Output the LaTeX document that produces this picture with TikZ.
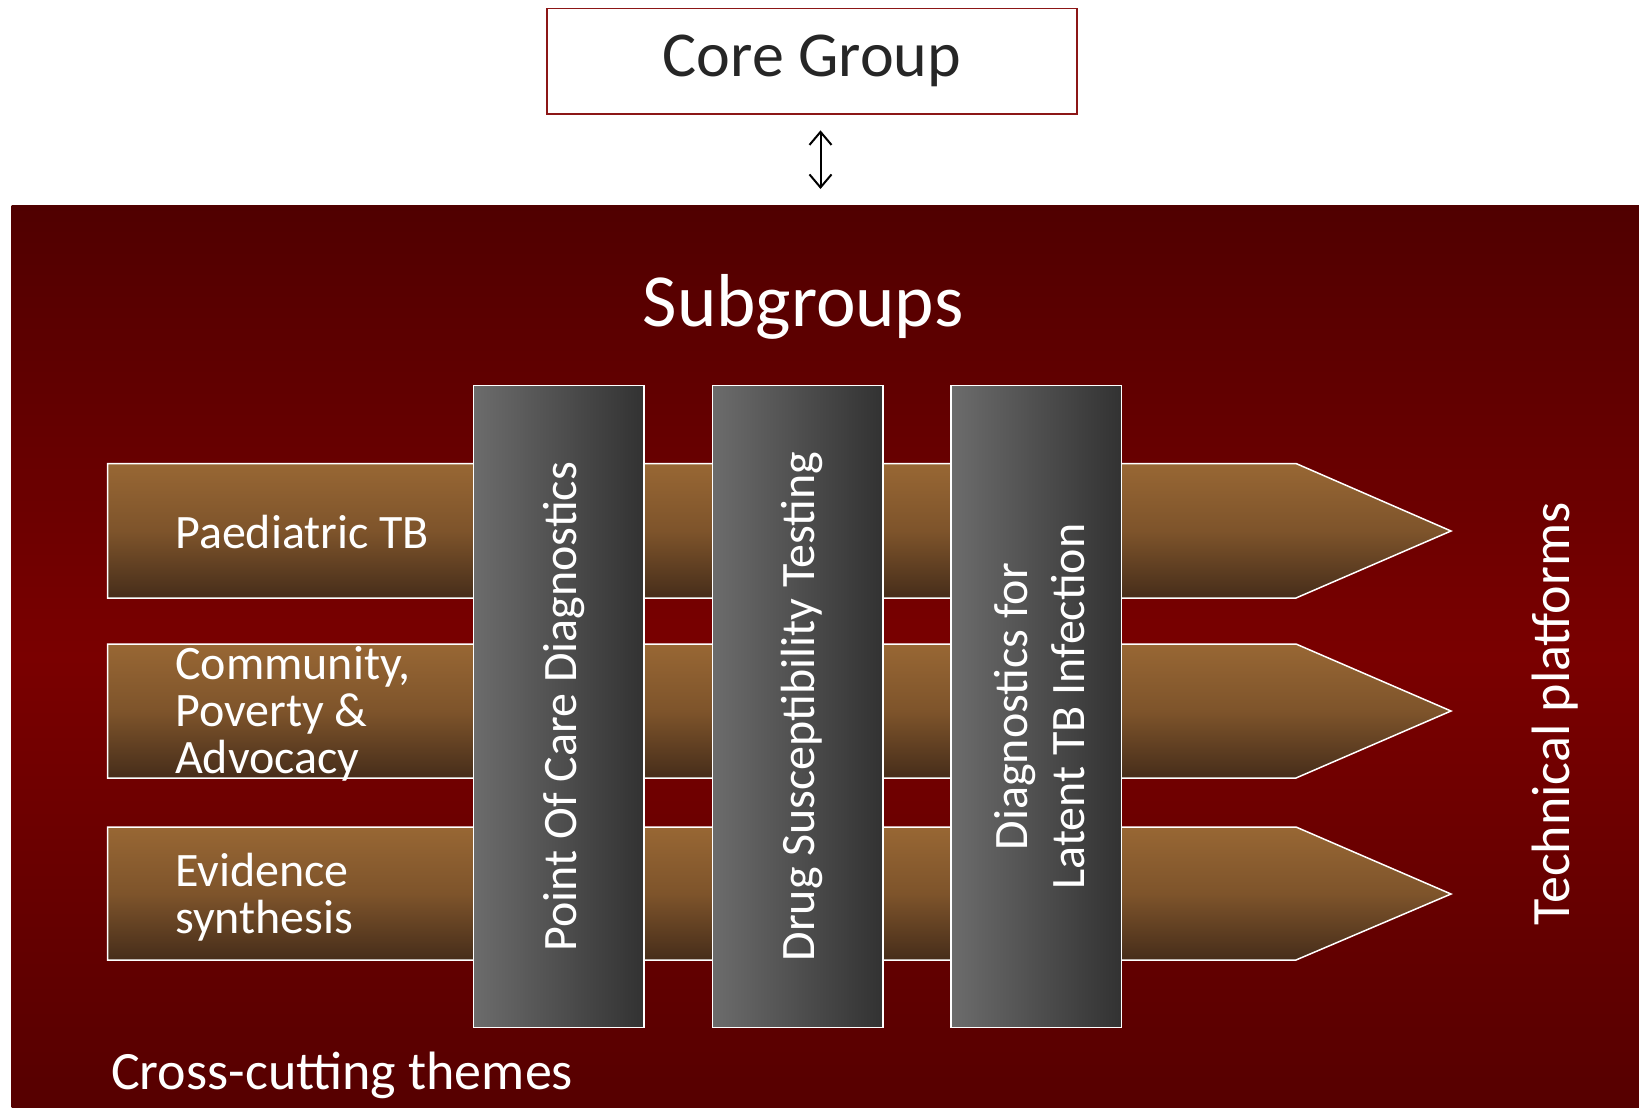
\documentclass[tikz,border=0pt]{standalone}
\usepackage{fontspec}
\setmainfont{Carlito}
\usetikzlibrary{arrows.meta}
\definecolor{bgTop}{RGB}{80,0,0}
\definecolor{bgMid}{RGB}{122,0,0}
\definecolor{bgBot}{RGB}{86,0,0}
\definecolor{barTop}{RGB}{152,103,52}
\definecolor{barMid}{RGB}{126,84,43}
\definecolor{barBot}{RGB}{70,45,26}
\definecolor{grayL}{RGB}{108,108,108}
\definecolor{grayR}{RGB}{50,50,50}
\definecolor{coreBorder}{RGB}{140,22,22}
\definecolor{coreText}{RGB}{38,38,38}
\tikzset{
  barshape/.style={draw=white, line width=1.5pt, top color=barTop, bottom color=barBot, middle color=barMid},
  graybox/.style={draw=white, line width=1.5pt, left color=grayL, right color=grayR, minimum width=170.5pt, minimum height=641.8pt, inner sep=0pt},
  whitetext/.style={text=white, inner sep=0pt},
  barlabel/.style={whitetext, anchor=west, align=left, font=\fontsize{48}{47}\selectfont},
  vlabel/.style={whitetext, rotate=90, align=center, font=\fontsize{48}{57}\selectfont},
}
\begin{document}
\begin{tikzpicture}[x=1pt,y=-1pt]
\useasboundingbox (0,0) rectangle (1639,1108);
\fill[white] (0,0) rectangle (1639,1108);
% background panel
\node[inner sep=0pt, outer sep=0pt, minimum width=1627.5pt, minimum height=903pt, anchor=north west,
      top color=bgTop, bottom color=bgBot, middle color=bgMid] (panel) at (11.5,205) {};
% core group
\node[draw=coreBorder, line width=1.5pt, fill=white, minimum width=530pt, minimum height=105.6pt, inner sep=0pt,
      text=coreText, font=\fontsize{64}{64}\selectfont] (core) at (812,61.2) {\raisebox{-2pt}{Core Group}};
\coordinate (arrtop) at (820.5,129.6);
\coordinate (arrbot) at (820.5,189);
\draw[{Straight Barb[length=13pt,width=22pt]}-{Straight Barb[length=13pt,width=22pt]}, line width=2pt, black]
  (core.south -| arrtop) ++(0,15.6) -- (arrbot);
\node[whitetext, font=\fontsize{75}{75}\selectfont] (sub) at (803,307) {Subgroups};
% bars
\draw[barshape] (107.7,463.5) -- (1296,463.5) -- (1451,531) -- (1296,598) -- (107.7,598) -- cycle;
\draw[barshape] (107.7,644) -- (1296,644) -- (1451,711) -- (1296,778) -- (107.7,778) -- cycle;
\draw[barshape] (107.7,827) -- (1296,827) -- (1451,894) -- (1296,960) -- (107.7,960) -- cycle;
\node[barlabel] (paed) at (175,532) {Paediatric TB};
\node[barlabel] (comm) at (175,714) {Community,\\Poverty \&\\Advocacy};
\node[barlabel] (evid) at (175,897) {Evidence\\synthesis};
% vertical boxes
\node[graybox] (poc) at (558.8,706.6) {};
\node[graybox] (dst) at (797.5,706.6) {};
\node[graybox] (ltbi) at (1036.3,706.6) {};
\node[vlabel] (poct) at ([xshift=5pt]poc.center) {Point Of Care Diagnostics};
\node[vlabel] (dstt) at ([xshift=4pt]dst.center) {Drug Susceptibility Testing};
\node[vlabel] (ltbit) at ([xshift=3pt]ltbi.center) {Diagnostics for\\Latent TB Infection};
% side labels
\node[whitetext, rotate=90, font=\fontsize{54}{54}\selectfont] (tech) at (1555,714) {Technical platforms};
\node[whitetext, anchor=west, font=\fontsize{54}{54}\selectfont] (cross) at (111,1075) {Cross-cutting themes};
\end{tikzpicture}
\end{document}
